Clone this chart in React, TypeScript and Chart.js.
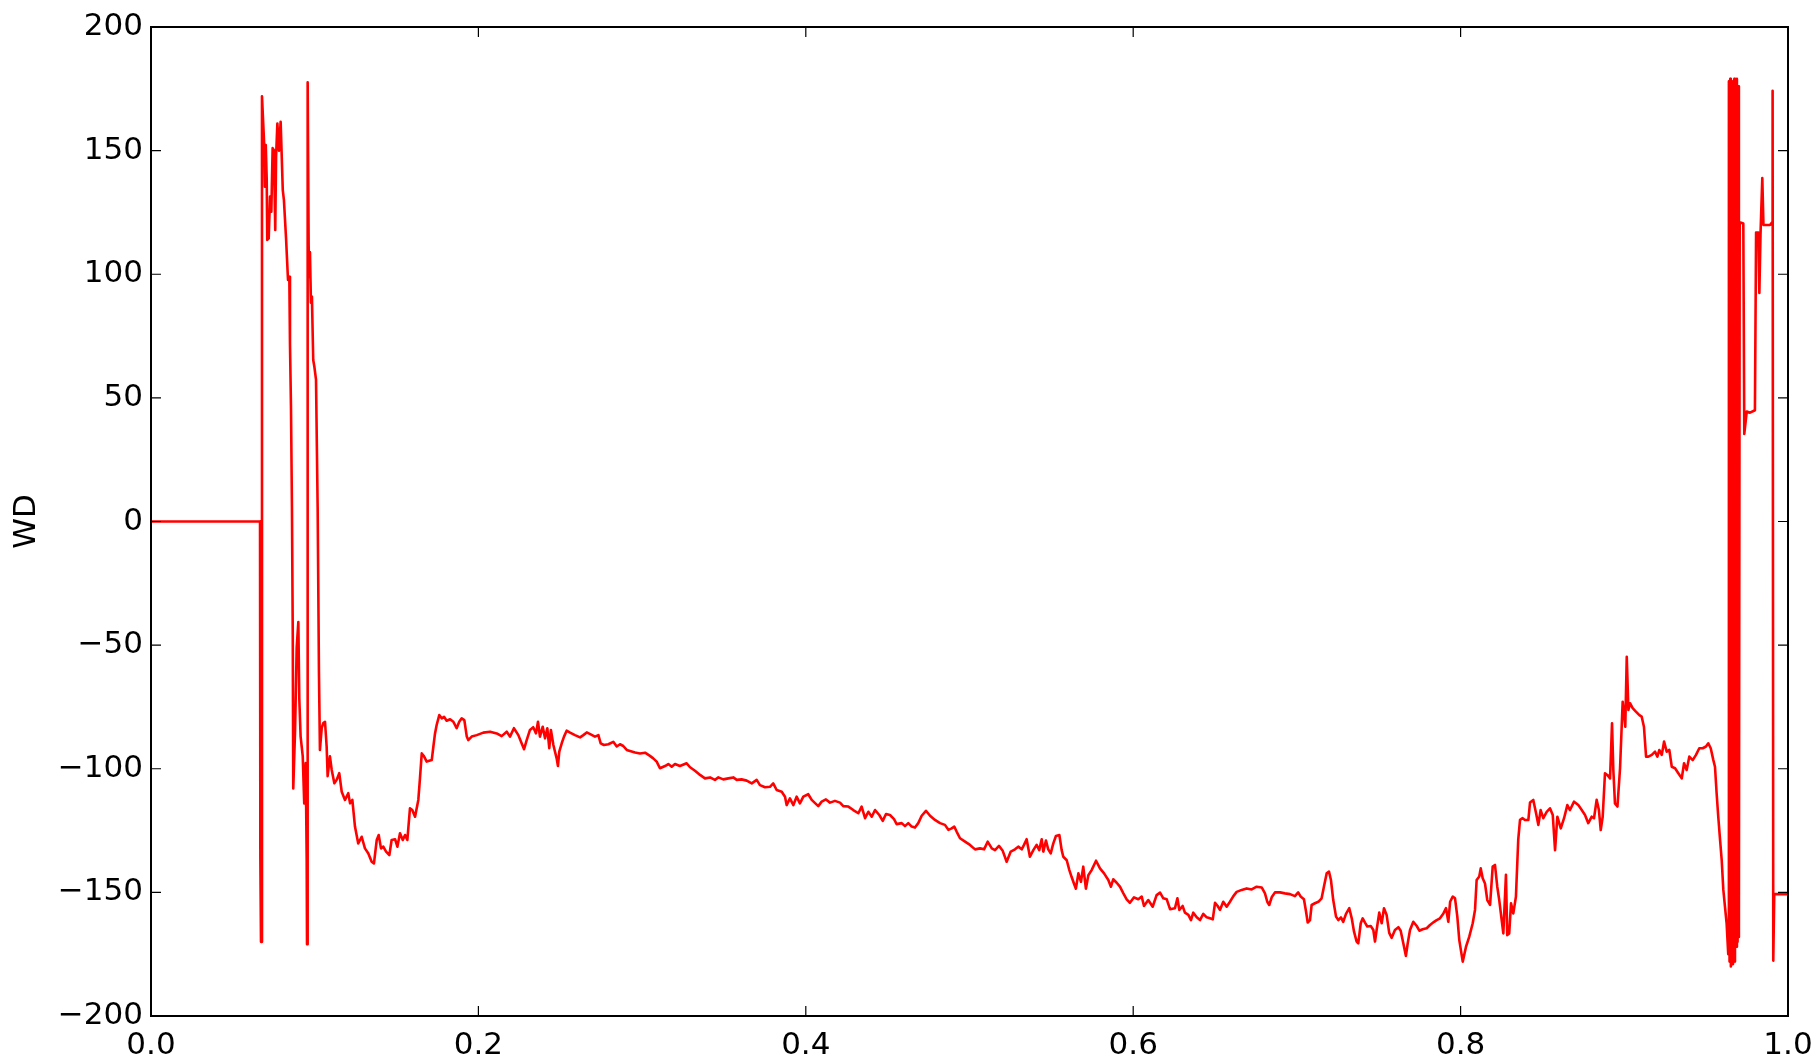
import React, { useEffect, useRef } from "react";
import { Chart, registerables } from "chart.js";

Chart.register(...registerables);

// x positions (fraction of the record) and WD values
const xs = [
  0, 0.0666, 0.0668, 0.0672, 0.0678, 0.0692, 0.0696, 0.0701, 0.0707, 0.0710,
  0.0719, 0.0727, 0.0735, 0.0743, 0.0751, 0.0759, 0.0764, 0.0772, 0.0782, 0.0792,
  0.0805, 0.0812, 0.0825, 0.0837, 0.0845, 0.0849, 0.0855, 0.0861, 0.0866, 0.0869,
  0.0880, 0.0890, 0.0900, 0.0906, 0.0914, 0.0927, 0.0936, 0.0945, 0.0951, 0.0953,
  0.0957, 0.0963, 0.0967, 0.0971, 0.0977, 0.0983, 0.0991, 0.0998, 0.1008, 0.1018,
  0.1026, 0.1032, 0.1043, 0.1053, 0.1063, 0.1073, 0.1079, 0.1093, 0.1104, 0.1120,
  0.1134, 0.1150, 0.1165, 0.1185, 0.1205, 0.1216, 0.1230, 0.1246, 0.1266, 0.1287,
  0.1307, 0.1327, 0.1348, 0.1362, 0.1379, 0.1391, 0.1405, 0.1419, 0.1436, 0.1456,
  0.1470, 0.1491, 0.1505, 0.1521, 0.1538, 0.1552, 0.1566, 0.1582, 0.1596, 0.1613,
  0.1633, 0.1643, 0.1654, 0.1668, 0.1684, 0.1715, 0.1725, 0.1735, 0.1745, 0.1761,
  0.1776, 0.1790, 0.1806, 0.1827, 0.1847, 0.1867, 0.1883, 0.1898, 0.1914, 0.1929,
  0.1938, 0.1959, 0.1990, 0.2030, 0.2071, 0.2112, 0.2142, 0.2173, 0.2193, 0.2217,
  0.2244, 0.2264, 0.2279, 0.2295, 0.2315, 0.2335, 0.2352, 0.2364, 0.2376, 0.2393,
  0.2407, 0.2421, 0.2433, 0.2443, 0.2458, 0.2468, 0.2478, 0.2486, 0.2494, 0.2509,
  0.2523, 0.2539, 0.2560, 0.2590, 0.2621, 0.2641, 0.2662, 0.2686, 0.2712, 0.2733,
  0.2747, 0.2767, 0.2794, 0.2824, 0.2845, 0.2865, 0.2885, 0.2906, 0.2926, 0.2957,
  0.2987, 0.3018, 0.3048, 0.3068, 0.3089, 0.3109, 0.3140, 0.3160, 0.3181, 0.3201,
  0.3231, 0.3272, 0.3293, 0.3323, 0.3354, 0.3384, 0.3415, 0.3445, 0.3466, 0.3496,
  0.3527, 0.3557, 0.3578, 0.3608, 0.3639, 0.3670, 0.3700, 0.3720, 0.3751, 0.3781,
  0.3801, 0.3822, 0.3853, 0.3873, 0.3883, 0.3903, 0.3924, 0.3944, 0.3964, 0.3985,
  0.4015, 0.4036, 0.4076, 0.4097, 0.4123, 0.4148, 0.4178, 0.4209, 0.4229, 0.4260,
  0.4290, 0.4321, 0.4341, 0.4362, 0.4382, 0.4403, 0.4423, 0.4449, 0.4470, 0.4490,
  0.4514, 0.4539, 0.4555, 0.4586, 0.4606, 0.4626, 0.4647, 0.4667, 0.4687, 0.4708,
  0.4734, 0.4759, 0.4789, 0.4820, 0.4850, 0.4871, 0.4891, 0.4907, 0.4922, 0.4942,
  0.4973, 0.5003, 0.5034, 0.5064, 0.5089, 0.5111, 0.5136, 0.5156, 0.5180, 0.5203,
  0.5227, 0.5252, 0.5278, 0.5298, 0.5319, 0.5333, 0.5349, 0.5369, 0.5390, 0.5410,
  0.5426, 0.5441, 0.5451, 0.5467, 0.5481, 0.5496, 0.5512, 0.5528, 0.5549, 0.5563,
  0.5573, 0.5594, 0.5610, 0.5624, 0.5638, 0.5650, 0.5665, 0.5681, 0.5695, 0.5711,
  0.5726, 0.5746, 0.5773, 0.5797, 0.5822, 0.5848, 0.5864, 0.5878, 0.5899, 0.5919,
  0.5940, 0.5960, 0.5980, 0.6005, 0.6031, 0.6052, 0.6066, 0.6092, 0.6119, 0.6143,
  0.6164, 0.6184, 0.6205, 0.6225, 0.6255, 0.6270, 0.6282, 0.6302, 0.6316, 0.6337,
  0.6353, 0.6367, 0.6388, 0.6408, 0.6428, 0.6449, 0.6469, 0.6486, 0.6500, 0.6516,
  0.6530, 0.6550, 0.6571, 0.6591, 0.6612, 0.6632, 0.6663, 0.6693, 0.6724, 0.6754,
  0.6785, 0.6805, 0.6819, 0.6831, 0.6846, 0.6866, 0.6897, 0.6927, 0.6958, 0.6988,
  0.7008, 0.7023, 0.7043, 0.7056, 0.7066, 0.7080, 0.7090, 0.7110, 0.7131, 0.7151,
  0.7165, 0.7182, 0.7196, 0.7208, 0.7222, 0.7239, 0.7253, 0.7269, 0.7283, 0.7300,
  0.7320, 0.7335, 0.7349, 0.7365, 0.7375, 0.7390, 0.7402, 0.7416, 0.7430, 0.7451,
  0.7467, 0.7477, 0.7487, 0.7503, 0.7518, 0.7532, 0.7548, 0.7564, 0.7579, 0.7599,
  0.7620, 0.7634, 0.7650, 0.7666, 0.7677, 0.7691, 0.7711, 0.7732, 0.7748, 0.7768,
  0.7793, 0.7813, 0.7838, 0.7854, 0.7874, 0.7895, 0.7911, 0.7925, 0.7936, 0.7952,
  0.7966, 0.7980, 0.7992, 0.8013, 0.8033, 0.8053, 0.8074, 0.8088, 0.8098, 0.8114,
  0.8123, 0.8135, 0.8149, 0.8163, 0.8180, 0.8196, 0.8210, 0.8224, 0.8236, 0.8251,
  0.8261, 0.8277, 0.8285, 0.8297, 0.8308, 0.8322, 0.8338, 0.8352, 0.8363, 0.8379,
  0.8393, 0.8414, 0.8424, 0.8444, 0.8461, 0.8475, 0.8489, 0.8505, 0.8526, 0.8546,
  0.8563, 0.8577, 0.8591, 0.8612, 0.8632, 0.8652, 0.8668, 0.8693, 0.8719, 0.8740,
  0.8760, 0.8780, 0.8801, 0.8815, 0.8831, 0.8845, 0.8856, 0.8868, 0.8882, 0.8896,
  0.8913, 0.8925, 0.8933, 0.8943, 0.8958, 0.8974, 0.8990, 0.8998, 0.9006, 0.9015,
  0.9025, 0.9035, 0.9051, 0.9071, 0.9092, 0.9106, 0.9120, 0.9133, 0.9147, 0.9168,
  0.9188, 0.9202, 0.9214, 0.9229, 0.9243, 0.9259, 0.9275, 0.9290, 0.9310, 0.9330,
  0.9351, 0.9365, 0.9381, 0.9397, 0.9418, 0.9438, 0.9458, 0.9479, 0.9499, 0.9513,
  0.9528, 0.9544, 0.9554, 0.9564, 0.9574, 0.9585, 0.9595, 0.9605, 0.9615, 0.9625,
  0.9635, 0.9639, 0.9643, 0.9647, 0.9651, 0.9655, 0.9659, 0.9664, 0.9668, 0.9672,
  0.9676, 0.9680, 0.9684, 0.9688, 0.9692, 0.9696, 0.9700, 0.9705, 0.9727, 0.9733,
  0.9748, 0.9768, 0.9798, 0.9805, 0.9819, 0.9825, 0.9832, 0.9843, 0.9850, 0.9890,
  0.9903, 0.9906, 0.9910, 0.9916, 1.0,
];

const wd = [
  0, 0, -136, -170, 172, 151.6, 135.4, 152.3, 138, 113.9,
  114.5, 131.4, 125.3, 151, 150.2, 117.9, 147.5, 161, 150, 161.7,
  134, 130, 114.5, 97.7, 99, 71.8, 47, 5.9, -45.9, -108,
  -84.7, -51, -40.7, -71.8, -87, -95, -114, -97.7, -136, -171,
  177.6, 111.8, 98.9, 109, 88.5, 91, 65.3, 62.6, 57.4, 5.9,
  -61.3, -92.4, -83.4, -81.5, -81, -91, -103, -95, -100.5, -105.9,
  -104.5, -101.8, -109.3, -112.6, -109.9, -114, -112.6, -123.4, -130.2, -127.5,
  -132.2, -134.2, -137.6, -138.3, -128.8, -126.8, -132.2, -131.5, -133.5, -134.9,
  -128.8, -128.5, -131.5, -126.1, -128.8, -126.8, -128.8, -116, -116.7, -119.4,
  -112.6, -103.9, -93.8, -95, -97.1, -96.5, -91, -85.7, -82.3, -78.3,
  -79.6, -79, -80.6, -80, -81, -83.6, -81, -79.6, -80.3, -87,
  -88.4, -87, -86.4, -85.4, -85, -85.7, -86.8, -85, -87, -83.6,
  -86.4, -89.7, -92.1, -88.4, -84.3, -83.2, -85.7, -81, -87, -83,
  -87.7, -83.6, -91.7, -84.3, -90.4, -93.1, -95.8, -98.9, -93.1, -89.7,
  -87, -84.6, -85.4, -86.4, -87.3, -86.4, -85.3, -86.1, -87, -86.4,
  -89.7, -90.4, -90.1, -89.1, -91, -90.1, -90.8, -92.4, -92.8, -93.4,
  -93.8, -93.5, -94.8, -95.8, -97.1, -99.8, -98.9, -98.1, -99.2, -98.1,
  -98.9, -97.8, -99.4, -100.8, -102.5, -103.9, -103.5, -104.5, -103.5, -104.3,
  -103.9, -103.5, -104.5, -104.3, -104.8, -105.9, -104.5, -106.6, -107.5, -107.3,
  -105.9, -108.6, -109.3, -111.3, -114.7, -112, -114.7, -111.3, -114, -111.3,
  -110.3, -112.6, -115.1, -113.3, -112.4, -113.7, -113, -113.7, -115.1, -115.3,
  -116.7, -118, -115.3, -120, -117.4, -119.4, -116.7, -118.7, -121.1, -118.3,
  -118.7, -120.4, -122.4, -122, -123.2, -122, -123.4, -123.8, -122, -119,
  -117, -119, -120.7, -122, -122.7, -124.7, -124.1, -123.4, -125.5, -128.1,
  -129.5, -130.8, -132.6, -132.2, -132.6, -129.5, -132.2, -132.9, -131.2, -133.2,
  -137.6, -133.5, -132.6, -131.5, -132.6, -130.8, -128.5, -135.6, -132.9, -130.8,
  -132.9, -128.5, -133.5, -129, -132.6, -134.2, -130.2, -127.2, -126.8, -132.9,
  -135.6, -137, -141, -143.8, -146.4, -148.5, -142.3, -145.7, -139.6, -148.5,
  -143.1, -141, -137.2, -140.3, -142.3, -145, -147.7, -144.7, -146.1, -147.7,
  -150.4, -152.8, -154.2, -152, -152.8, -151.7, -155.5, -153.1, -155.8, -151.1,
  -150.1, -152.4, -152.8, -156.8, -156.4, -152.4, -157.1, -155.5, -158.2, -159.1,
  -161.2, -158.2, -160.1, -161.2, -158.7, -160.1, -160.5, -160.9, -154.2, -155.5,
  -157.1, -153.8, -155.8, -153.8, -151.5, -149.8, -149, -148.4, -148.8, -147.7,
  -148, -150.4, -153.8, -155.1, -152, -150, -150, -150.4, -150.7, -151.5,
  -150, -151.7, -152.8, -157.8, -162.2, -161.2, -155.1, -154.4, -153.8, -152.4,
  -147.7, -142.3, -141.6, -145, -153.1, -159.8, -161.2, -160.1, -161.9, -158.7,
  -156.4, -160.5, -165.9, -169.9, -170.6, -162.5, -160.5, -162.2, -163.8, -163.6,
  -165.2, -169.9, -165.2, -158.2, -162.5, -156.4, -159.1, -166.4, -168.4, -165.2,
  -164.1, -165.5, -170.6, -175.7, -170.6, -165.2, -161.9, -163.6, -165.5, -164.9,
  -164.5, -163.2, -161.9, -161.2, -160.5, -158.5, -156.4, -161.9, -153.8, -151.7,
  -152.4, -159.8, -169.3, -178, -172, -167.9, -162.5, -157.1, -145, -143.6,
  -140.3, -144.3, -146.4, -153.1, -155.1, -139.6, -138.9, -147.7, -153.1, -161.2,
  -166.6, -142.9, -167.3, -166.6, -154.4, -158.5, -151.7, -128.8, -120.7, -120,
  -120.7, -120.7, -113.7, -112.6, -118, -122.7, -116.7, -120, -117.4, -116,
  -118.7, -132.9, -119.4, -124.1, -120, -114.7, -116.7, -113.3, -114.7, -116.7,
  -118.7, -122, -119.4, -120, -112.6, -116.7, -124.8, -119.4, -101.8, -102.5,
  -103.9, -81.6, -100.5, -114, -115.3, -99.8, -72.9, -77.6, -83, -54.7,
  -76.2, -73.5, -75.5, -76.9, -78.3, -78.9, -83, -95.1, -95.1, -94.4,
  -93.1, -95.1, -92.4, -94.4, -89, -93.1, -92.4, -99.2, -99.8, -101.8,
  -103.9, -97.8, -100.5, -95.1, -96.5, -94.4, -91.7, -91.7, -91, -89.7,
  -91.7, -96.5, -99.2, -109.9, -119.4, -128.8, -136.9, -149, -155.8, -162.5,
  -175, 178, -178, 179, -180, 175, -179, 178, -176, 179,
  -178, 177, -172, 179, -170, 176, -168, 121, 120.5, 35.4,
  44.5, 44, 45, 116.9, 116.9, 92.4, 116, 138.9, 119.9, 119.9,
  121, 174.2, -177.6, -150.7, -150.7,
];

const xTickValues = [0, 0.2, 0.4, 0.6, 0.8, 1.0];
const yTickValues = [-200, -150, -100, -50, 0, 50, 100, 150, 200];
const yTitle = "WD";

const FONT_FAMILY = '"DejaVu Sans", sans-serif';
const FONT_SIZE = 31;

const framePlugin = {
  id: "mplFrame",
  afterDraw(chart: any) {
    const { ctx, chartArea: a, scales } = chart;
    const tl = 10;
    ctx.save();
    ctx.strokeStyle = "#000";
    ctx.lineWidth = 1.2;
    ctx.beginPath();
    for (const v of xTickValues) {
      const px = scales.x.getPixelForValue(v);
      ctx.moveTo(px, a.bottom);
      ctx.lineTo(px, a.bottom - tl);
      ctx.moveTo(px, a.top);
      ctx.lineTo(px, a.top + tl);
    }
    for (const v of yTickValues) {
      const py = scales.y.getPixelForValue(v);
      ctx.moveTo(a.left, py);
      ctx.lineTo(a.left + tl, py);
      ctx.moveTo(a.right, py);
      ctx.lineTo(a.right - tl, py);
    }
    ctx.stroke();
    ctx.lineWidth = 2;
    ctx.strokeRect(a.left, a.top, a.right - a.left, a.bottom - a.top);

    ctx.fillStyle = "#000";
    ctx.font = `${FONT_SIZE}px ${FONT_FAMILY}`;
    ctx.translate(27, (a.top + a.bottom) / 2);
    ctx.rotate(-Math.PI / 2);
    ctx.textAlign = "center";
    ctx.textBaseline = "middle";
    ctx.fillText(yTitle, 0, 0);
    ctx.restore();
  },
};

export default function App() {
  const canvasRef = useRef<HTMLCanvasElement | null>(null);

  useEffect(() => {
    document.body.style.margin = "0";
    const canvas = canvasRef.current;
    if (!canvas) return;
    const points = xs.map((x, i) => ({ x, y: wd[i] }));
    const font = { family: FONT_FAMILY, size: FONT_SIZE };
    const chart = new Chart(canvas, {
      type: "line",
      data: {
        datasets: [
          {
            data: points,
            borderColor: "#ff0000",
            borderWidth: 2.6,
            pointRadius: 0,
            tension: 0,
            fill: false,
            borderJoinStyle: "round",
          },
        ],
      },
      options: {
        animation: false,
        responsive: false,
        devicePixelRatio: 1,
        layout: { padding: { left: 0, right: 31, top: 27, bottom: 0 } },
        plugins: { legend: { display: false }, tooltip: { enabled: false } },
        scales: {
          x: {
            type: "linear",
            min: 0,
            max: 1,
            afterBuildTicks: (ax: any) => {
              ax.ticks = xTickValues.map((v) => ({ value: v }));
            },
            afterFit: (s: any) => {
              s.height = 41;
              s.paddingLeft = 0;
              s.paddingRight = 0;
            },
            grid: { display: false, drawTicks: false },
            border: { display: false },
            ticks: {
              font,
              color: "#000",
              padding: 11,
              maxRotation: 0,
              autoSkip: false,
              callback: (v: any) => Number(v).toFixed(1),
            },
          },
          y: {
            type: "linear",
            min: -200,
            max: 200,
            afterBuildTicks: (ax: any) => {
              ax.ticks = yTickValues.map((v) => ({ value: v }));
            },
            afterFit: (s: any) => {
              s.width = 151;
              s.paddingTop = 0;
              s.paddingBottom = 0;
            },
            grid: { display: false, drawTicks: false },
            border: { display: false },
            ticks: {
              font,
              color: "#000",
              padding: 8,
              autoSkip: false,
              callback: (v: any) =>
                Number(v) < 0 ? "\u2212" + Math.abs(Number(v)) : String(v),
            },
          },
        },
      },
      plugins: [framePlugin],
    });
    return () => chart.destroy();
  }, []);

  return (
    <canvas
      ref={canvasRef}
      width={1819}
      height={1057}
      style={{ display: "block", width: 1819, height: 1057 }}
    />
  );
}
